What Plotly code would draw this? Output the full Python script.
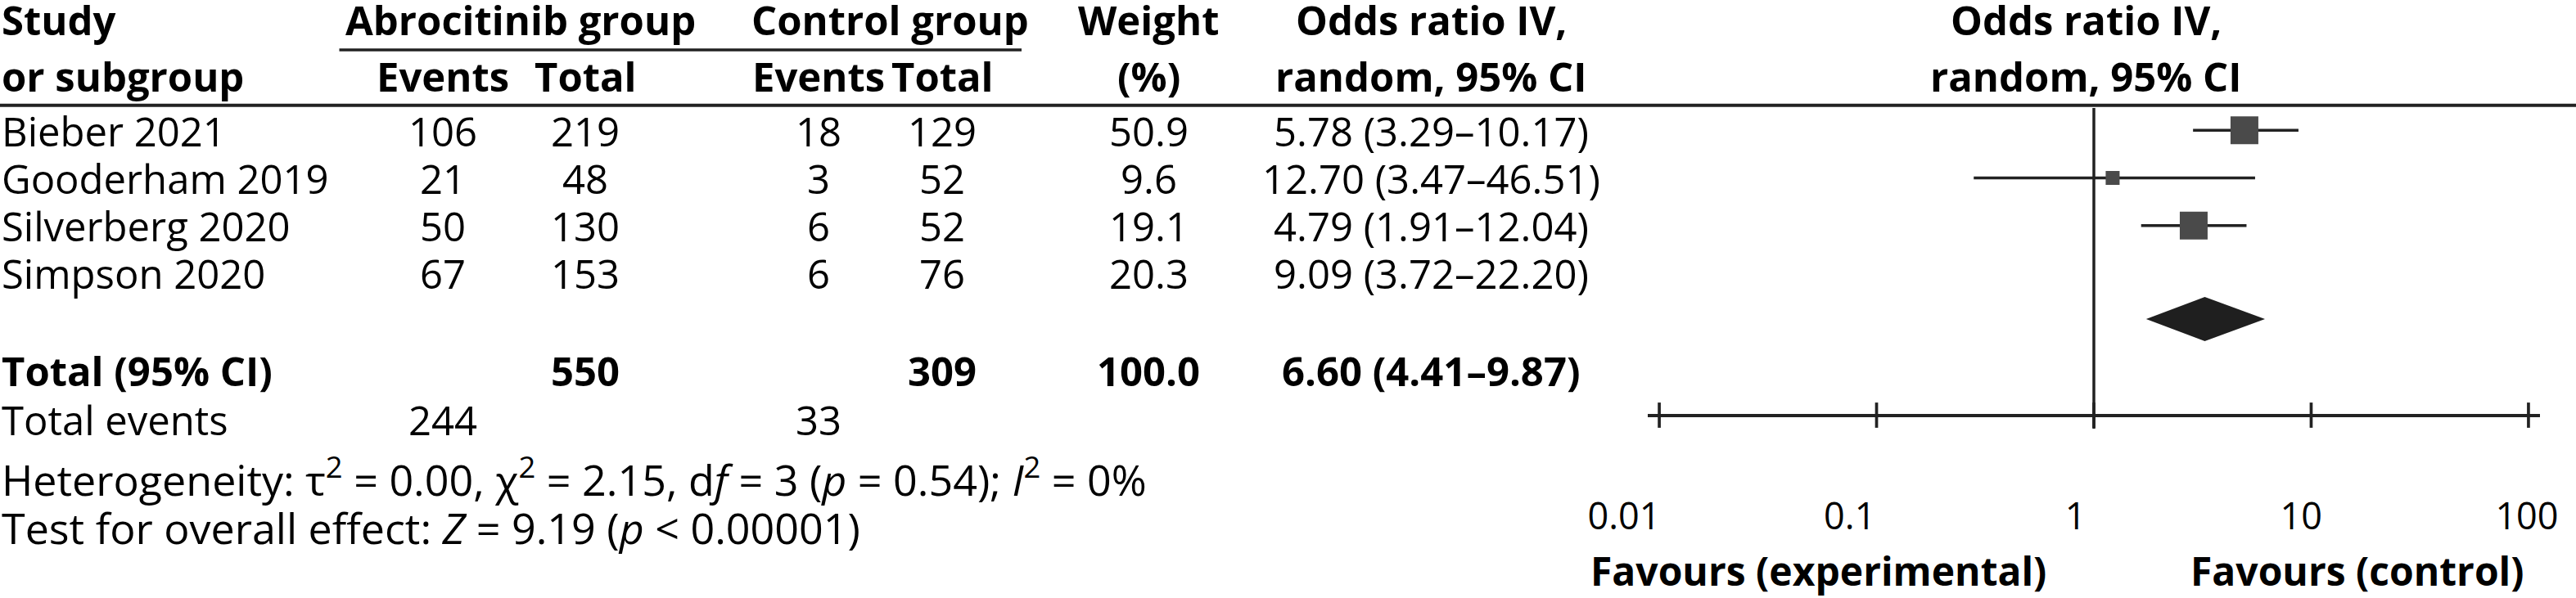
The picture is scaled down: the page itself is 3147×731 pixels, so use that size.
import plotly.graph_objects as go

# ---------------- data ----------------
STUDIES = ["Bieber 2021", "Gooderham 2019", "Silverberg 2020", "Simpson 2020"]
EXP_EVENTS = [106, 21, 50, 67]
EXP_TOTAL = [219, 48, 130, 153]
CTL_EVENTS = [18, 3, 6, 6]
CTL_TOTAL = [129, 52, 52, 76]
WEIGHT = [50.9, 9.6, 19.1, 20.3]
OR_EST = [5.78, 12.70, 4.79, 9.09]
OR_LO = [3.29, 3.47, 1.91, 3.72]
OR_HI = [10.17, 46.51, 12.04, 22.20]

TOTAL_EXP = 550
TOTAL_CTL = 309
TOTAL_WEIGHT = 100.0
TOTAL_OR = [6.60, 4.41, 9.87]
EVENTS_EXP = 244
EVENTS_CTL = 33

# positions of the marks as they are drawn in the figure
PLOT_EST = [4.93, 1.22, 2.88, None]
PLOT_LO = [2.86, 0.28, 1.65, None]
PLOT_HI = [8.74, 5.52, 5.04, None]
DIAMOND_LO_EST_HI = [1.74, 3.24, 6.13]

TICK_VALUES = [0.01, 0.1, 1, 10, 100]
TICK_LABELS = ["0.01", "0.1", "1", "10", "100"]

# ---------------- layout constants ----------------
W, H = 3147, 731
FONT = "Open Sans"
INK = "#000000"
LINE = "#222222"
SQUARE_COLOR = "#4a4a4a"
BODY = 49
BOLD = 49
FOOT = 52
TXT_DY = 1.5            # annotation middle -> cap middle offset

ROW_Y = [161.3, 219.5, 277.7, 335.9]
HDR1_Y, HDR2_Y = 25, 94
TOTAL_Y, EVENTS_Y, HET_Y, TEST_Y = 454, 514, 584, 646
COL_EXP_EV, COL_EXP_TOT, COL_CTL_EV, COL_CTL_TOT = 541, 715, 1000, 1151
COL_WEIGHT, COL_OR, COL_FOREST = 1403, 1748, 2548
AXIS_Y, NULL_TOP, NULL_BOT = 507.5, 132, 524
DIAMOND_Y, DIAMOND_HALF = 390, 27
MARK_DY = -2
SQUARE_PX = [34, 17, 34, 0]
TICKLAB_Y, FAV_Y = 636, 698.5

fig = go.Figure()


def txt(x, y, s, anchor="center", bold=False, size=None):
    fig.add_annotation(
        x=x, y=y - TXT_DY, xref="x", yref="y", text=(f"<b>{s}</b>" if bold else s),
        xanchor=anchor, yanchor="middle", showarrow=False,
        font=dict(family=FONT, size=size or (BOLD if bold else BODY), color=INK))


# ---- header ----
txt(0, HDR1_Y, "Study", "left", True)
txt(0, HDR2_Y, "or subgroup", "left", True)
txt((COL_EXP_EV + COL_EXP_TOT) / 2 + 8, HDR1_Y, "Abrocitinib group", bold=True)
txt((COL_CTL_EV + COL_CTL_TOT) / 2 + 12, HDR1_Y, "Control group", bold=True)
txt(COL_EXP_EV, HDR2_Y, "Events", bold=True)
txt(COL_EXP_TOT, HDR2_Y, "Total", bold=True)
txt(COL_CTL_EV, HDR2_Y, "Events", bold=True)
txt(COL_CTL_TOT, HDR2_Y, "Total", bold=True)
txt(COL_WEIGHT, HDR1_Y, "Weight", bold=True)
txt(COL_WEIGHT, HDR2_Y, "(%)", bold=True)
txt(COL_OR, HDR1_Y, "Odds ratio IV,", bold=True)
txt(COL_OR, HDR2_Y, "random, 95% CI", bold=True)
txt(COL_FOREST, HDR1_Y, "Odds ratio IV,", bold=True)
txt(COL_FOREST, HDR2_Y, "random, 95% CI", bold=True)

# ---- study rows ----
for i, name in enumerate(STUDIES):
    y = ROW_Y[i]
    txt(0, y, name, "left")
    txt(COL_EXP_EV, y, str(EXP_EVENTS[i]))
    txt(COL_EXP_TOT, y, str(EXP_TOTAL[i]))
    txt(COL_CTL_EV, y, str(CTL_EVENTS[i]))
    txt(COL_CTL_TOT, y, str(CTL_TOTAL[i]))
    txt(COL_WEIGHT, y, f"{WEIGHT[i]:.1f}")
    txt(COL_OR, y, f"{OR_EST[i]:.2f} ({OR_LO[i]:.2f}–{OR_HI[i]:.2f})")

# ---- totals ----
txt(0, TOTAL_Y, "Total (95% CI)", "left", True)
txt(COL_EXP_TOT, TOTAL_Y, str(TOTAL_EXP), bold=True)
txt(COL_CTL_TOT, TOTAL_Y, str(TOTAL_CTL), bold=True)
txt(COL_WEIGHT, TOTAL_Y, f"{TOTAL_WEIGHT:.1f}", bold=True)
txt(COL_OR, TOTAL_Y, f"{TOTAL_OR[0]:.2f} ({TOTAL_OR[1]:.2f}–{TOTAL_OR[2]:.2f})", bold=True)
txt(0, EVENTS_Y, "Total events", "left")
txt(COL_EXP_EV, EVENTS_Y, str(EVENTS_EXP))
txt(COL_CTL_EV, EVENTS_Y, str(EVENTS_CTL))
txt(0, HET_Y, "Heterogeneity: τ<sup>2</sup> = 0.00, χ<sup>2</sup> = 2.15, d<i>f</i> = 3 (<i>p</i> = 0.54); "
              "<i>I</i><sup>2</sup> = 0%", "left", size=FOOT)
txt(0, TEST_Y, "Test for overall effect: <i>Z</i> = 9.19 (<i>p</i> &lt; 0.00001)", "left", size=FOOT)

# ---- rules ----
fig.add_shape(type="line", xref="x", yref="y", x0=414.5, x1=1248, y0=61, y1=61,
              line=dict(color=LINE, width=3.5))
fig.add_shape(type="line", xref="x", yref="y", x0=0, x1=W, y0=128.7, y1=128.7,
              line=dict(color=LINE, width=4))

# ---- forest plot ----
# null line at OR = 1
fig.add_trace(go.Scatter(x=[1, 1], y=[NULL_TOP, NULL_BOT], xaxis="x2", yaxis="y", mode="lines",
                         line=dict(color=LINE, width=3.5), hoverinfo="skip", cliponaxis=False))
# confidence intervals
ci_x, ci_y = [], []
for i in range(len(STUDIES)):
    if PLOT_EST[i] is None:
        continue
    ci_x += [PLOT_LO[i], PLOT_HI[i], None]
    ci_y += [ROW_Y[i] + MARK_DY, ROW_Y[i] + MARK_DY, None]
fig.add_trace(go.Scatter(x=ci_x, y=ci_y, xaxis="x2", yaxis="y", mode="lines",
                         line=dict(color=LINE, width=3.5), hoverinfo="skip", cliponaxis=False))
# squares
sq = [i for i in range(len(STUDIES)) if PLOT_EST[i] is not None]
fig.add_trace(go.Scatter(x=[PLOT_EST[i] for i in sq], y=[ROW_Y[i] + MARK_DY for i in sq],
                         xaxis="x2", yaxis="y", mode="markers", cliponaxis=False,
                         marker=dict(symbol="square", size=[SQUARE_PX[i] for i in sq], opacity=1,
                                     color=SQUARE_COLOR, line=dict(width=0, color=SQUARE_COLOR)),
                         hoverinfo="skip"))
# pooled diamond
lo, est, hi = DIAMOND_LO_EST_HI
fig.add_trace(go.Scatter(x=[lo, est, hi, est, lo],
                         y=[DIAMOND_Y, DIAMOND_Y - DIAMOND_HALF, DIAMOND_Y, DIAMOND_Y + DIAMOND_HALF, DIAMOND_Y],
                         xaxis="x2", yaxis="y", mode="lines", fill="toself", fillcolor="#1f1f1f",
                         line=dict(color="#1f1f1f", width=0), hoverinfo="skip"))
# tick marks crossing the axis line
fig.add_trace(go.Scatter(x=TICK_VALUES, y=[AXIS_Y] * len(TICK_VALUES), xaxis="x2", yaxis="y",
                         mode="markers", cliponaxis=False,
                         marker=dict(symbol="line-ns", size=22, line=dict(color=LINE, width=3.7)),
                         hoverinfo="skip"))
# tick labels
fig.add_trace(go.Scatter(x=TICK_VALUES, y=[TICKLAB_Y] * len(TICK_VALUES), xaxis="x3", yaxis="y",
                         mode="text", text=TICK_LABELS, textposition="middle center", cliponaxis=False,
                         textfont=dict(family=FONT, size=45, color=INK), hoverinfo="skip"))

fig.add_annotation(x=2221.5, y=FAV_Y - TXT_DY, xref="x", yref="y", text="<b>Favours (experimental)</b>",
                   showarrow=False, xanchor="center", yanchor="middle",
                   font=dict(family=FONT, size=48, color=INK))
fig.add_annotation(x=2880, y=FAV_Y - TXT_DY, xref="x", yref="y", text="<b>Favours (control)</b>",
                   showarrow=False, xanchor="center", yanchor="middle",
                   font=dict(family=FONT, size=48, color=INK))

AX_L, AX_R = 2013, 3103
fig.update_layout(
    width=W, height=H, autosize=False, margin=dict(l=0, r=0, t=0, b=0, pad=0),
    paper_bgcolor="white", plot_bgcolor="rgba(0,0,0,0)", showlegend=False, hovermode=False,
    xaxis=dict(range=[0, W], domain=[0, 1], visible=False, fixedrange=True),
    yaxis=dict(range=[H, 0], domain=[0, 1], visible=False, fixedrange=True),
    xaxis2=dict(type="log", range=[-2.053, 2.053], domain=[AX_L / W, AX_R / W],
                anchor="free", position=1 - AXIS_Y / H, showline=True, linewidth=4,
                linecolor=LINE, ticks="", showticklabels=False, showgrid=False,
                zeroline=False, fixedrange=True),
    xaxis3=dict(type="log", range=[-2, 2], domain=[1984 / W, 3087 / W], anchor="free",
                position=0, visible=False, fixedrange=True),
)

fig.write_html("out.html", config={"displayModeBar": False},
               post_script="document.body.style.margin='0';")
